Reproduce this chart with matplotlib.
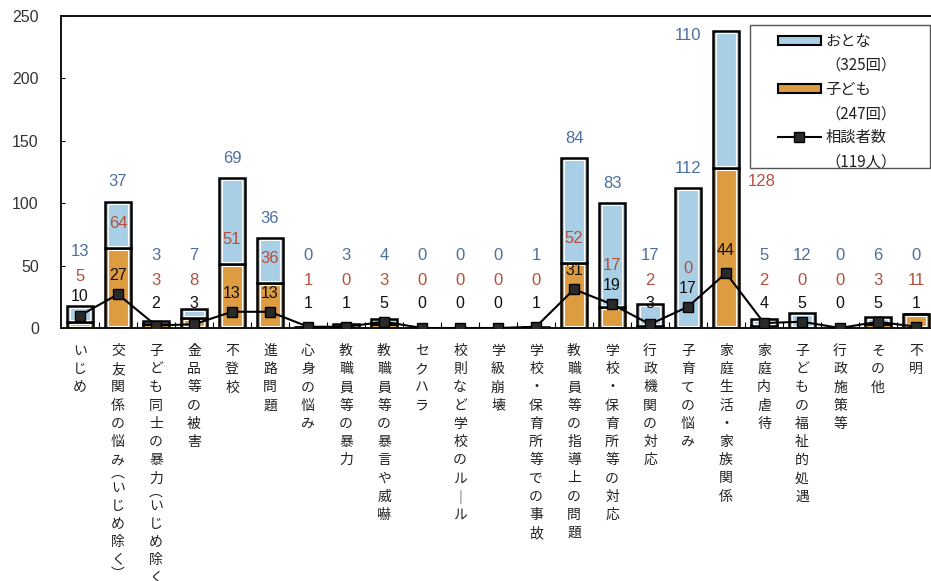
import matplotlib
matplotlib.use('Agg')
import matplotlib.pyplot as plt
import matplotlib.patches as mpatches
from matplotlib.lines import Line2D

plt.rcParams['font.family'] = ['Noto Sans CJK JP', 'DejaVu Sans']

categories = [
    'いじめ', '交友関係の悩み（いじめ除く）', '子ども同士の暴力（いじめ除く）',
    '金品等の被害', '不登校', '進路問題', '心身の悩み', '教職員等の暴力',
    '教職員等の暴言や威嚇', 'セクハラ', '校則など学校のルール', '学級崩壊',
    '学校・保育所等での事故', '教職員等の指導上の問題', '学校・保育所等の対応',
    '行政機関の対応', '子育ての悩み', '家庭生活・家族関係', '家庭内虐待',
    '子どもの福祉的処遇', '行政施策等', 'その他', '不明',
]
adult = [13, 37, 3, 7, 69, 36, 0, 3, 4, 0, 0, 0, 1, 84, 83, 17, 112, 110, 5, 12, 0, 6, 0]
child = [5, 64, 3, 8, 51, 36, 1, 0, 3, 0, 0, 0, 0, 52, 17, 2, 0, 128, 2, 0, 0, 3, 11]
counts = [10, 27, 2, 3, 13, 13, 1, 1, 5, 0, 0, 0, 1, 31, 19, 3, 17, 44, 4, 5, 0, 5, 1]
legend_labels = ['おとな', '（325回）', '子ども', '（247回）', '相談者数', '（119人）']
yticks = [0, 50, 100, 150, 200, 250]

BLUE = '#a8cfe5'
ORANGE = '#dd9c3f'
BLUE_TXT = '#4b6f9e'
RED_TXT = '#b1503e'
NUM_FONT = ['Liberation Sans', 'DejaVu Sans']


def vertical_chars(text):
    table = {'（': '︵', '）': '︶', 'ー': '｜'}
    return [table.get(c, c) for c in text]


def inner_outline(ax, xs, heights, bottoms, width):
    # thin white line just inside the black bar outline
    for xi, h, b in zip(xs, heights, bottoms):
        if h < 5:
            continue
        ax.add_patch(mpatches.Rectangle((xi - width / 2, b + 1.6), width, h - 3.2,
                                        fill=False, edgecolor='white', lw=0.8,
                                        zorder=2.5))


def main():
    W, H = 931, 581
    fig = plt.figure(figsize=(W / 100, H / 100), dpi=100)
    ax = fig.add_axes([61 / W, 253 / H, 23 * 38 / W, 312 / H])
    x = list(range(len(categories)))
    total = [a + c for a, c in zip(adult, child)]

    ax.bar(x, child, width=0.66, color=ORANGE, edgecolor='black', linewidth=1.8, zorder=2)
    ax.bar(x, adult, bottom=child, width=0.66, color=BLUE, edgecolor='black',
           linewidth=1.8, zorder=2)
    inner_outline(ax, x, child, [0] * len(x), 0.54)
    inner_outline(ax, x, adult, child, 0.54)
    ax.plot(x, counts, color='black', lw=1.5, marker='s', ms=7,
            mfc='#2a2a2a', mec='black', zorder=3)

    # value labels
    for i in x:
        black_y = max(counts[i] + 15, 20)
        if total[i] > 200:
            ax.text(i - 1.0, total[i] - 4, str(adult[i]), color=BLUE_TXT,
                    ha='center', va='center', fontsize=12, family=NUM_FONT, zorder=4)
            ax.text(i + 0.95, child[i] - 11, str(child[i]), color=RED_TXT,
                    ha='center', va='center', fontsize=12, family=NUM_FONT, zorder=4)
            black_y = counts[i] + 18
        else:
            red_y = max(child[i] + 20, 38, black_y + 16)
            blue_y = max(total[i] + 16, red_y + 20, 55)
            ax.text(i, blue_y, str(adult[i]), color=BLUE_TXT, ha='center',
                    va='center', fontsize=12, family=NUM_FONT, zorder=4)
            ax.text(i, red_y, str(child[i]), color=RED_TXT, ha='center',
                    va='center', fontsize=12, family=NUM_FONT, zorder=4)
        ax.text(i, black_y, str(counts[i]), color='#111111', ha='center',
                va='center', fontsize=11.5, family=NUM_FONT, zorder=4)

    # vertical category labels
    for i, name in enumerate(categories):
        off = 16.6
        for ch in vertical_chars(name):
            half = ch in '︵︶'
            if half:
                off -= 3.3
            ax.annotate(ch, xy=(i, 0), xycoords=('data', 'axes fraction'),
                        xytext=(0, -off), textcoords='offset points',
                        ha='center', va='center', fontsize=10, color='#222222',
                        annotation_clip=False)
            off += 6.6 if half else 13.1
            if half:
                off += 3.3

    ax.set_xlim(-0.5, len(categories) - 0.5)
    ax.set_ylim(0, 250)
    ax.set_xticks([])
    ax.set_xticks([i + 0.5 for i in range(len(categories) - 1)], minor=True)
    ax.tick_params(axis='x', which='minor', direction='in', length=4, width=0.8)
    ax.set_yticks(yticks)
    ax.set_yticklabels([str(v) for v in yticks], family=NUM_FONT, fontsize=11.5,
                       color='#333333')
    ax.tick_params(axis='y', direction='in', length=3, width=0.8, pad=16)
    for s in ax.spines.values():
        s.set_linewidth(1.4)
        s.set_color('#111111')

    # legend
    box = mpatches.Rectangle((750 / W, 1 - 168 / H), 180 / W, 143 / H,
                             transform=fig.transFigure, facecolor='white',
                             edgecolor='#555555', lw=1.0, zorder=4)
    fig.add_artist(box)
    blank = mpatches.Patch(facecolor='none', edgecolor='none')
    handles = [
        mpatches.Patch(facecolor=BLUE, edgecolor='black', lw=1.5), blank,
        mpatches.Patch(facecolor=ORANGE, edgecolor='black', lw=1.5), blank,
        Line2D([], [], color='black', lw=1.5, marker='s', ms=7, mfc='#2a2a2a'), blank,
    ]
    fig.legend(handles, legend_labels, loc='upper left',
               bbox_to_anchor=(778 / W, 1 - 33 / H), frameon=False, fontsize=11,
               handlelength=2.8, handleheight=0.55, handletextpad=0.3,
               labelspacing=0.46, borderpad=0, borderaxespad=0, labelcolor='#222222')

    fig.savefig('out.png', dpi=100)


if __name__ == '__main__':
    main()
